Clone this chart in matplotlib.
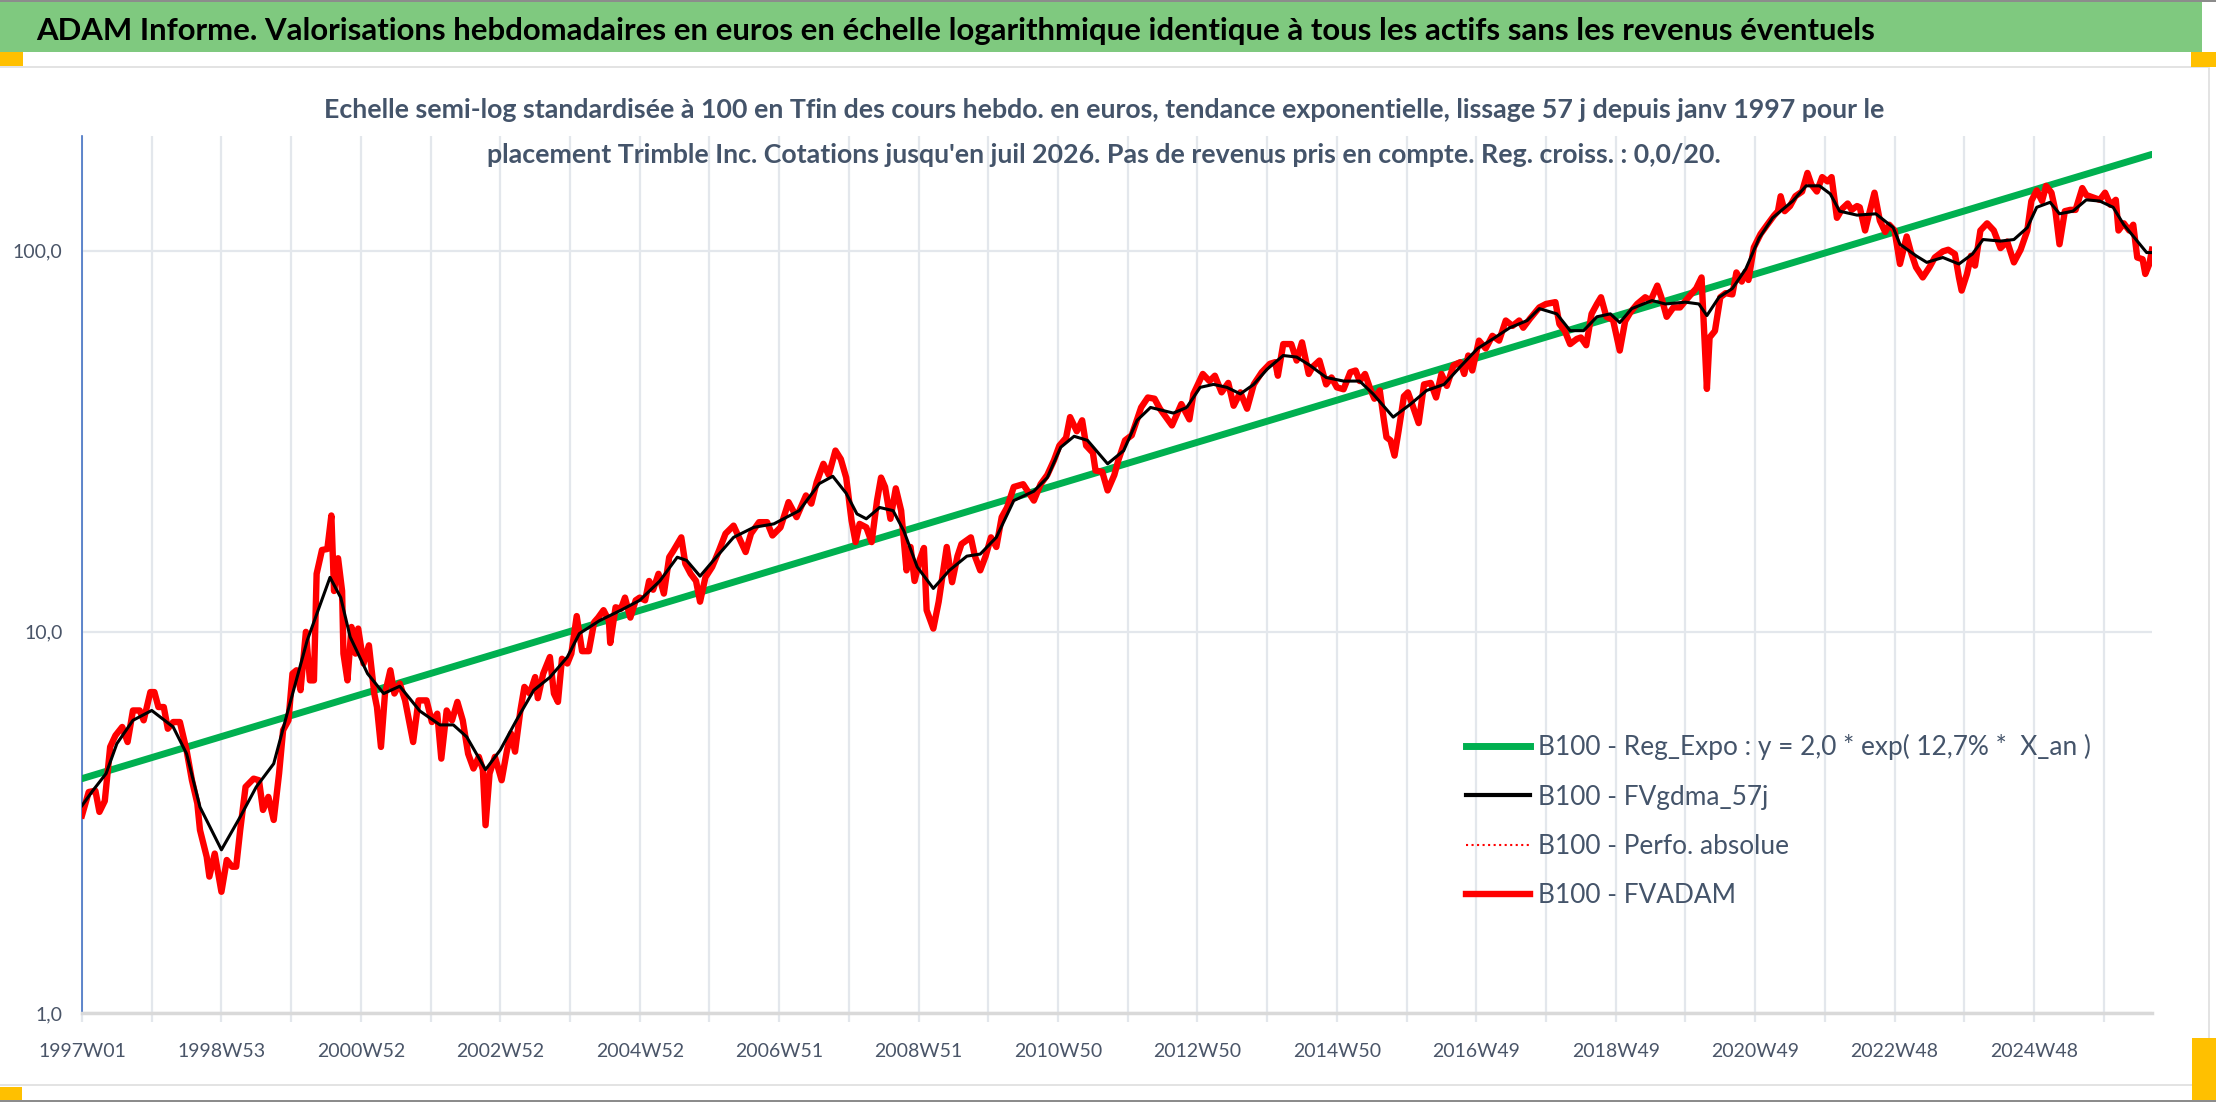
import matplotlib
matplotlib.use("Agg")
import matplotlib.pyplot as plt
from matplotlib.lines import Line2D
from matplotlib.patches import Rectangle
from matplotlib.ticker import NullLocator

W, H = 2216, 1102

title = ("ADAM Informe. Valorisations hebdomadaires en euros en échelle logarithmique "
         "identique à tous les actifs sans les revenus éventuels")
subtitle_1 = ("Echelle semi-log standardisée à 100 en Tfin des cours hebdo. en euros, tendance "
              "exponentielle, lissage 57 j depuis janv 1997 pour le")
subtitle_2 = ("placement Trimble Inc. Cotations jusqu'en juil 2026. Pas de revenus pris en "
              "compte. Reg. croiss. : 0,0/20.")

# category axis: one point per week since 1997W01
x_labels = ["1997W01", "1998W53", "2000W52", "2002W52", "2004W52", "2006W51", "2008W51",
            "2010W50", "2012W50", "2014W50", "2016W49", "2018W49", "2020W49", "2022W48",
            "2024W48"]
n_weeks = 1545
grid_step = 52
y_ticks = [1, 10, 100]
y_labels = ["1,0", "10,0", "100,0"]

legend_labels = ["B100 - Reg_Expo : y = 2,0 * exp( 12,7% *  X_an )",
                 "B100 - FVgdma_57j",
                 "B100 - Perfo. absolue",
                 "B100 - FVADAM"]

# exponential regression (straight on the log scale)
reg_weeks = [0, 1544]
reg_vals = [4.12, 179.0]

# FVADAM (week index, value)
red_weeks = [0, 5, 10, 13, 17, 21, 25, 30, 34, 38, 43, 46, 51, 54, 57, 61, 64, 68, 73, 78,
             82, 86, 88, 93, 95, 99, 104, 108, 112, 115, 118, 122, 128, 132, 135, 139, 143,
             147, 150, 154, 157, 160, 163, 167, 170, 173, 175, 179, 183, 186, 188, 191, 194,
             195, 198, 201, 204, 206, 210, 214, 218, 220, 223, 226, 230, 233, 237, 241, 247,
             251, 257, 261, 265, 268, 272, 276, 280, 284, 288, 292, 296, 299, 301, 304, 308,
             313, 317, 320, 323, 327, 330, 334, 338, 340, 344, 349, 352, 355, 358, 362, 365,
             369, 373, 378, 382, 385, 389, 393, 394, 398, 402, 405, 409, 413, 416, 420, 423,
             426, 430, 434, 438, 441, 447, 450, 454, 458, 461, 465, 470, 475, 480, 486, 490,
             495, 499, 505, 511, 515, 521, 527, 533, 540, 544, 548, 553, 557, 562, 566, 570,
             574, 577, 580, 585, 589, 593, 596, 599, 603, 607, 611, 615, 618, 621, 625, 628,
             630, 635, 639, 643, 645, 649, 653, 656, 663, 666, 670, 674, 678, 682, 686, 690,
             695, 702, 710, 715, 720, 725, 729, 734, 737, 742, 746, 749, 754, 756, 761, 765,
             770, 773, 778, 783, 790, 795, 800, 804, 813, 820, 826, 829, 836, 841, 845, 850,
             855, 859, 864, 869, 874, 880, 886, 890, 892, 896, 902, 906, 910, 915, 918, 923,
             928, 932, 936, 941, 946, 950, 953, 957, 961, 964, 968, 971, 973, 976, 979, 982,
             986, 989, 993, 997, 1001, 1006, 1010, 1014, 1018, 1023, 1028, 1031, 1034, 1037,
             1042, 1047, 1052, 1057, 1062, 1067, 1072, 1075, 1080, 1087, 1092, 1099, 1102,
             1106, 1110, 1115, 1118, 1122, 1126, 1130, 1133, 1137, 1142, 1147, 1151, 1155,
             1160, 1166, 1170, 1175, 1178, 1182, 1187, 1192, 1197, 1202, 1204, 1208, 1211,
             1212, 1214, 1218, 1222, 1226, 1231, 1234, 1238, 1241, 1243, 1247, 1252, 1257,
             1262, 1265, 1267, 1270, 1274, 1278, 1283, 1287, 1290, 1294, 1298, 1302, 1305,
             1309, 1313, 1317, 1320, 1324, 1326, 1330, 1333, 1337, 1341, 1345, 1348, 1352,
             1356, 1361, 1364, 1368, 1373, 1378, 1382, 1388, 1392, 1397, 1400, 1402, 1406,
             1409, 1412, 1416, 1421, 1426, 1431, 1436, 1441, 1446, 1451, 1454, 1458, 1462,
             1465, 1469, 1472, 1475, 1479, 1483, 1487, 1492, 1495, 1500, 1505, 1509, 1513,
             1517, 1519, 1523, 1527, 1530, 1533, 1537, 1539, 1542, 1544]
red_vals = [3.30, 3.80, 3.83, 3.37, 3.60, 4.99, 5.35, 5.63, 5.14, 6.22, 6.22, 5.86, 6.95, 6.95,
            6.35, 6.35, 5.57, 5.80, 5.80, 4.89, 4.08, 3.55, 3.02, 2.57, 2.28, 2.62, 2.08, 2.52,
            2.42, 2.42, 3.02, 3.92, 4.12, 4.08, 3.41, 3.69, 3.21, 4.25, 5.52, 5.86, 7.77, 7.93,
            7.03, 10.0, 7.46, 7.46, 14.2, 16.4, 16.5, 20.2, 12.8, 15.6, 12.8, 8.77, 7.46, 10.3,
            8.77, 10.2, 8.26, 9.22, 6.89, 6.35, 4.99, 6.89, 7.93, 6.89, 7.32, 6.61, 5.14, 6.61,
            6.61, 5.80, 6.10, 4.65, 6.22, 5.86, 6.55, 5.86, 4.79, 4.38, 4.70, 4.35, 3.11, 4.25,
            4.70, 4.08, 4.89, 5.41, 4.85, 6.22, 7.17, 6.89, 7.61, 6.70, 7.77, 8.59, 6.89, 6.55,
            8.50, 8.26, 8.77, 11.0, 8.90, 8.90, 10.6, 10.9, 11.4, 10.7, 9.35, 11.6, 11.5, 12.3,
            10.9, 12.1, 12.3, 12.1, 13.6, 12.9, 14.2, 12.6, 15.7, 16.3, 17.7, 15.1, 14.2, 13.6,
            12.0, 13.9, 14.8, 16.3, 18.1, 19.0, 17.7, 16.2, 18.1, 19.4, 19.4, 17.9, 18.8, 21.9,
            20.0, 22.8, 21.7, 24.7, 27.6, 25.8, 29.9, 28.4, 25.4, 19.6, 17.2, 19.2, 18.8, 17.2,
            22.1, 25.4, 24.0, 19.8, 23.8, 20.8, 14.5, 16.7, 13.6, 15.5, 16.6, 11.4, 10.2, 12.0,
            15.0, 16.7, 13.5, 15.8, 17.0, 17.7, 15.8, 14.5, 15.8, 17.7, 16.7, 20.0, 21.2, 24.0,
            24.4, 22.1, 24.4, 25.8, 28.2, 30.8, 32.3, 36.6, 33.6, 35.9, 30.8, 29.5, 26.5, 26.3,
            23.5, 25.8, 28.2, 31.8, 32.8, 38.8, 41.2, 40.9, 38.5, 34.8, 39.6, 36.1, 42.1, 47.5,
            45.5, 47.0, 42.5, 45.0, 39.2, 42.5, 38.5, 44.6, 48.0, 50.5, 51.0, 47.0, 56.9, 56.9,
            51.5, 57.5, 47.5, 49.6, 51.5, 44.6, 46.5, 43.8, 43.3, 48.0, 48.5, 45.5, 47.5, 43.3,
            40.9, 43.0, 36.1, 32.4, 31.8, 29.0, 33.6, 41.5, 42.5, 38.8, 35.3, 44.6, 45.0, 41.2,
            47.5, 44.2, 50.0, 51.0, 47.5, 53.1, 48.5, 58.1, 55.4, 59.8, 58.1, 65.6, 63.5, 65.6,
            62.8, 66.3, 71.0, 72.5, 73.3, 64.2, 61.6, 56.9, 58.7, 59.2, 56.5, 68.3, 72.5, 75.5,
            67.1, 65.8, 54.7, 65.3, 69.0, 72.5, 75.5, 74.0, 81.0, 75.5, 67.1, 71.0, 71.0, 74.6,
            78.2, 79.6, 85.1, 51.5, 43.4, 59.2, 61.6, 75.5, 77.4, 76.8, 87.7, 83.0, 88.2, 83.8,
            102, 110.6, 117, 123.6, 127, 139, 127, 131, 139, 143, 160, 149, 143, 156, 152, 156,
            122, 129, 133, 128, 131, 130, 113, 125, 142, 120, 112, 117, 113, 92.3, 109, 99.6,
            90.5, 85.1, 90.5, 96, 99.6, 100.6, 98, 85.1, 78.6, 86.9, 97, 91.4, 113, 118, 113,
            101.6, 105.7, 93.2, 100.6, 113, 135, 144, 135, 148, 142, 127, 104, 127, 128, 128,
            146, 140, 138, 136, 142, 132, 136, 113, 118, 113, 117, 96, 95, 86.9, 92.3, 100.6]

# FVgdma_57j smoothed curve
black_weeks = [0, 8, 18, 26, 38, 52, 68, 78, 88, 104, 118, 130, 143, 153, 168, 185, 193, 200,
               213, 225, 237, 252, 267, 277, 287, 301, 312, 324, 337, 349, 362, 371, 386, 402,
               416, 431, 444, 451, 461, 471, 486, 501, 516, 535, 550, 560, 570, 578, 585, 595,
               605, 613, 623, 635, 647, 660, 670, 682, 695, 710, 720, 730, 740, 750, 765, 777,
               787, 797, 814, 824, 834, 844, 854, 864, 874, 884, 896, 906, 916, 928, 941, 953,
               963, 978, 991, 1003, 1016, 1028, 1041, 1053, 1065, 1078, 1087, 1100, 1110, 1120,
               1130, 1140, 1147, 1156, 1171, 1181, 1196, 1206, 1212, 1221, 1231, 1241, 1251,
               1261, 1276, 1286, 1296, 1304, 1311, 1324, 1338, 1351, 1356, 1368, 1376, 1388,
               1400, 1410, 1418, 1431, 1441, 1451, 1458, 1468, 1475, 1485, 1495, 1505, 1515,
               1523, 1533, 1540, 1544]
black_vals = [3.5, 3.83, 4.25, 5.09, 5.86, 6.22, 5.63, 4.79, 3.47, 2.68, 3.27, 3.92, 4.51, 6.10,
              9.5, 13.9, 12.3, 9.7, 7.77, 6.89, 7.2, 6.2, 5.7, 5.7, 5.3, 4.35, 4.9, 5.86, 7.03,
              7.6, 8.59, 9.9, 10.7, 11.4, 12.1, 13.6, 15.7, 15.4, 14.0, 15.4, 17.7, 18.8, 19.2,
              20.8, 24.5, 25.6, 23.1, 20.4, 19.8, 21.2, 20.8, 18.4, 14.8, 13.0, 14.5, 15.8, 16.0,
              17.7, 22.1, 23.4, 25.4, 30.5, 32.6, 31.8, 27.6, 29.9, 35.9, 38.8, 37.5, 38.8, 43.8,
              44.6, 43.8, 42.1, 44.6, 48.9, 53.1, 52.6, 50.0, 46.5, 45.5, 45.5, 42.1, 36.6, 39.6,
              43.0, 44.6, 49.6, 55.4, 58.9, 62.8, 65.6, 70.5, 68.3, 61.7, 61.7, 67.1, 68.3, 64.8,
              70.5, 74.0, 72.5, 73.3, 72.5, 67.6, 75.5, 79.6, 89.6, 108, 122, 135, 148, 148, 141,
              127, 124, 125, 115, 104, 97, 93.2, 96, 92.3, 98, 107, 106, 107, 115, 130, 134, 125,
              127, 136, 135, 130, 117, 106, 98.9, 98.9]

plt.rcParams["font.family"] = ["Lato", "DejaVu Sans"]

fig = plt.figure(figsize=(W / 100, H / 100), dpi=100)
fig.patch.set_facecolor("white")
renderer = fig.canvas.get_renderer()


def fx(x):
    return x / W


def fy(y):
    return 1 - y / H


def rect(x0, y0, x1, y1, color):
    fig.add_artist(Rectangle((fx(x0), fy(y1)), (x1 - x0) / W, (y1 - y0) / H,
                             transform=fig.transFigure, facecolor=color, edgecolor="none"))


def size_for(text, width_px, **kw):
    t = fig.text(0, 0, text, fontsize=10, **kw)
    w = t.get_window_extent(renderer).width
    t.remove()
    return 10 * width_px / w


# frame decorations of the spreadsheet capture
rect(0, 0, W, 2, "#8C8C8C")
rect(0, 2, 2202, 52, "#7FC97F")
rect(0, 66, 2209, 68, "#E3E3E3")
rect(0, 1084, 2209, 1086, "#E3E3E3")
rect(2208, 66, 2210, 1086, "#E3E3E3")
rect(0, 52, 23, 66, "#FFC000")
rect(2191, 52, W, 67, "#FFC000")
rect(0, 1087, 22, 1100, "#FFC000")
rect(2192, 1038, W, 1100, "#FFC000")
rect(0, 1100, W, H, "#8C8C8C")

fig.text(fx(36), fy(40), title, fontweight="bold", color="black", va="baseline", ha="left",
         fontsize=size_for(title, 1843, fontweight="bold"))
sub_size = size_for(subtitle_1, 1567, fontweight="bold")
fig.text(fx(1104), fy(118), subtitle_1, fontweight="bold", color="#44546A", ha="center",
         va="baseline", fontsize=sub_size)
fig.text(fx(1104), fy(163), subtitle_2, fontweight="bold", color="#44546A", ha="center",
         va="baseline", fontsize=sub_size)

ax = fig.add_axes([fx(82), fy(1013), 2070 / W, (1013 - 136) / H])
ax.set_yscale("log")
ax.set_ylim(1, 200)
ax.set_xlim(0, n_weeks - 1)

grid_col = "#E3E7EC"
ax.plot(reg_weeks, reg_vals, color="#00B050", lw=5.0, solid_capstyle="round", zorder=3)
ax.plot(red_weeks, red_vals, ":", color="#FF0000", lw=1.5, zorder=3)
ax.plot(red_weeks, red_vals, color="#FF0000", lw=4.6, zorder=4)
ax.plot(black_weeks, black_vals, color="black", lw=2.2, zorder=5)

tick_size = size_for("1997W01", 88)
ticks = list(range(0, n_weeks, grid_step))
ax.set_xticks(ticks, [x_labels[i // 2] if i % 2 == 0 else "" for i in range(len(ticks))])
ax.set_yticks(y_ticks, y_labels)
ax.yaxis.set_minor_locator(NullLocator())
ax.grid(True, color=grid_col, lw=1.6)
ax.set_axisbelow(True)
ax.tick_params(axis="x", length=6.5, width=1.6, color=grid_col, pad=15,
               labelsize=tick_size, labelcolor="#4A5568")
ax.tick_params(axis="y", length=0, pad=14, labelsize=tick_size, labelcolor="#4A5568")
for side in ("top", "right"):
    ax.spines[side].set_visible(False)
ax.spines["left"].set_color("#4472C4")
ax.spines["left"].set_linewidth(1.2)
ax.spines["bottom"].set_color("#D9D9D9")
ax.spines["bottom"].set_linewidth(2.5)

handles = [Line2D([], [], color="#00B050", lw=5.0),
           Line2D([], [], color="black", lw=3.0),
           Line2D([], [], color="#FF0000", lw=1.5, ls=":"),
           Line2D([], [], color="#FF0000", lw=4.6)]
leg_size = size_for(legend_labels[0], 552)
leg_px = leg_size * 100 / 72
ax.legend(handles, legend_labels, loc="upper left", bbox_to_anchor=(fx(1466), fy(734)),
          bbox_transform=fig.transFigure, frameon=False, fontsize=leg_size,
          labelcolor="#44546A", handlelength=64 / leg_px, handletextpad=8 / leg_px,
          labelspacing=(56 - 1.2 * leg_px) / leg_px, borderpad=0, borderaxespad=0)

fig.savefig("out.png", dpi=100)
